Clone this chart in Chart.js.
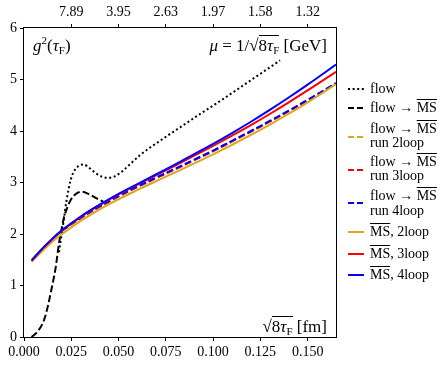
<!DOCTYPE html>
<html>
<head>
<meta charset="utf-8">
<script src="https://cdn.jsdelivr.net/npm/chart.js@4.4.0/dist/chart.umd.min.js"></script>
<style>
body { margin: 0; background: #fff; }
#wrap { position: relative; width: 448px; height: 366px; font-family: "Liberation Serif", serif; color: #000; }
canvas { position: absolute; left: 0; top: 0; }
.t { position: absolute; white-space: nowrap; font-size: 14px; line-height: 16px; }
.big { font-size: 17px; line-height: 18px; }
.ov { text-decoration: overline; text-decoration-thickness: 1px; }
.rad { border-top: 1px solid #000; }
sub { font-size: 11px; vertical-align: -3px; line-height: 0; }
sup { font-size: 11px; vertical-align: 7px; line-height: 0; }
svg { position: absolute; left: 0; top: 0; }
</style>
</head>
<body>
<div id="wrap">
  <canvas id="c" width="448" height="366"></canvas>

  <!-- texte im plot -->
  <div class="t big" style="left:33px; top:37px;"><i>g</i><sup>2</sup>(<i>τ</i><sub>F</sub>)</div>
  <div class="t big" style="right:121px; top:37px;"><i>μ</i> = 1/√<span class="rad">8<i>τ</i><sub>F</sub></span> [GeV]</div>
  <div class="t big" style="right:121px; top:318px;">√<span class="rad">8<i>τ</i><sub>F</sub></span> [fm]</div>

  <!-- legende -->
  <svg width="448" height="366">
    <line x1="348" x2="364" y1="89" y2="89" stroke="#000" stroke-width="2" stroke-dasharray="2 2.6"/>
    <line x1="348" x2="364" y1="108" y2="108" stroke="#000" stroke-width="2" stroke-dasharray="6 3"/>
    <line x1="348" x2="364" y1="137" y2="137" stroke="#daa520" stroke-width="2" stroke-dasharray="6 3"/>
    <line x1="348" x2="364" y1="170" y2="170" stroke="#ff0000" stroke-width="2" stroke-dasharray="6 3"/>
    <line x1="348" x2="364" y1="203" y2="203" stroke="#0000ff" stroke-width="2" stroke-dasharray="6 3"/>
    <line x1="348" x2="364" y1="232" y2="232" stroke="#daa520" stroke-width="2"/>
    <line x1="348" x2="364" y1="254" y2="254" stroke="#ff0000" stroke-width="2"/>
    <line x1="348" x2="364" y1="275" y2="275" stroke="#0000ff" stroke-width="2"/>
  </svg>
  <div class="t" style="left:370px; top:81px;">flow</div>
  <div class="t" style="left:370px; top:100px;">flow → <span class="ov">MS</span></div>
  <div class="t" style="left:370px; top:121px;">flow → <span class="ov">MS</span></div>
  <div class="t" style="left:370px; top:135px;">run 2loop</div>
  <div class="t" style="left:370px; top:154px;">flow → <span class="ov">MS</span></div>
  <div class="t" style="left:370px; top:168px;">run 3loop</div>
  <div class="t" style="left:370px; top:188px;">flow → <span class="ov">MS</span></div>
  <div class="t" style="left:370px; top:203px;">run 4loop</div>
  <div class="t" style="left:370px; top:224px;"><span class="ov">MS</span>, 2loop</div>
  <div class="t" style="left:370px; top:246px;"><span class="ov">MS</span>, 3loop</div>
  <div class="t" style="left:370px; top:267px;"><span class="ov">MS</span>, 4loop</div>
</div>

<script>
// werte (x = sqrt(8 tau_F) in fm)
const flowX = [0.0185, 0.0195, 0.0208, 0.0225, 0.0247, 0.027, 0.0314, 0.035, 0.0379, 0.0415, 0.0444, 0.048, 0.052, 0.0565, 0.0613, 0.0719, 0.0825, 0.0931, 0.1028, 0.1125, 0.1354]
const flowY = [1.65, 1.90, 2.21, 2.65, 3.05, 3.25, 3.35, 3.27, 3.18, 3.11, 3.09, 3.12, 3.22, 3.37, 3.53, 3.81, 4.07, 4.33, 4.56, 4.80, 5.37]

const flowMsX = [0.004, 0.0075, 0.0106, 0.0125, 0.0141, 0.0155, 0.0168, 0.0185, 0.02, 0.0212, 0.023, 0.0247, 0.0275, 0.0308, 0.034, 0.0379, 0.0423]
const flowMsY = [0.0, 0.12, 0.33, 0.58, 0.85, 1.10, 1.36, 1.82, 2.12, 2.33, 2.52, 2.66, 2.78, 2.82, 2.78, 2.70, 2.62]

const runX = [0.02, 0.03, 0.04, 0.05, 0.06, 0.07, 0.08, 0.09, 0.10, 0.11, 0.12, 0.13, 0.14, 0.15, 0.165]
const run2loop = [2.06, 2.305, 2.525, 2.725, 2.91, 3.085, 3.255, 3.43, 3.605, 3.795, 3.985, 4.18, 4.38, 4.59, 4.92]
const run3loop = [2.065, 2.31, 2.53, 2.73, 2.915, 3.09, 3.26, 3.435, 3.61, 3.80, 3.99, 4.185, 4.385, 4.595, 4.925]
const run4loop = [2.07, 2.32, 2.54, 2.74, 2.925, 3.10, 3.27, 3.445, 3.62, 3.81, 4.00, 4.195, 4.395, 4.605, 4.93]

const msX = [0.004, 0.01, 0.015, 0.02, 0.03, 0.04, 0.05, 0.06, 0.07, 0.08, 0.09, 0.10, 0.11, 0.12, 0.13, 0.14, 0.15, 0.165]
const ms2loop = [1.46, 1.68, 1.85, 1.995, 2.255, 2.48, 2.675, 2.855, 3.028, 3.198, 3.37, 3.547, 3.731, 3.923, 4.124, 4.335, 4.557, 4.91]
const ms3loop = [1.48, 1.72, 1.90, 2.06, 2.33, 2.56, 2.77, 2.96, 3.145, 3.33, 3.52, 3.71, 3.91, 4.115, 4.33, 4.555, 4.79, 5.15]
const ms4loop = [1.49, 1.73, 1.91, 2.07, 2.34, 2.57, 2.78, 2.97, 3.16, 3.35, 3.55, 3.75, 3.96, 4.18, 4.41, 4.65, 4.90, 5.29]

const bottomTicks = [0, 0.025, 0.05, 0.075, 0.1, 0.125, 0.15]
const bottomTickLabels = ['0.000', '0.025', '0.050', '0.075', '0.100', '0.125', '0.150']
const topTicks = [0.025, 0.05, 0.075, 0.1, 0.125, 0.15]
const topTickLabels = ['7.89', '3.95', '2.63', '1.97', '1.58', '1.32']
const yTicks = [0, 1, 2, 3, 4, 5, 6]

const GOLD = '#daa520'
const tickFont = { family: 'Liberation Serif', size: 14 }

const pts = (xs, ys) => xs.map((x, i) => ({ x: x, y: ys[i] }))
const line = (label, xs, ys, color, dash, order, mono) => ({
	label: label,
	data: pts(xs, ys),
	borderColor: color,
	backgroundColor: color,
	borderWidth: 2,
	borderDash: dash,
	pointRadius: 0,
	fill: false,
	tension: 0.4,
	cubicInterpolationMode: mono ? 'monotone' : 'default',
	order: order,
})

const pickLabel = (ticks, labels, v) => {
	const i = ticks.findIndex(t => Math.abs(t - v) < 1e-9)
	return i < 0 ? '' : labels[i]
}

// rahmen um den plotbereich
const frame = {
	id: 'frame',
	afterDraw(chart) {
		const { ctx, chartArea: a } = chart
		ctx.save()
		ctx.strokeStyle = '#000'
		ctx.lineWidth = 1
		ctx.strokeRect(Math.round(a.left) - 0.5, Math.round(a.top) - 0.5, Math.round(a.right - a.left) + 1, Math.round(a.bottom - a.top) + 1)
		ctx.restore()
	},
}

const tickGrid = { drawOnChartArea: false, drawTicks: true, tickLength: 4, color: '#000', lineWidth: 1 }

new Chart(document.getElementById('c').getContext('2d'), {
	type: 'line',
	data: {
		datasets: [
			line('flow', flowX, flowY, '#000', [2, 2.6], 7, true),
			line('flow → MS', flowMsX, flowMsY, '#000', [7, 3], 6, true),
			line('flow → MS run 2loop', runX, run2loop, GOLD, [7, 3], 5),
			line('flow → MS run 3loop', runX, run3loop, '#ff0000', [7, 3], 4),
			line('flow → MS run 4loop', runX, run4loop, '#0000ff', [7, 3], 3),
			line('MS, 2loop', msX, ms2loop, GOLD, [], 2),
			line('MS, 3loop', msX, ms3loop, '#ff0000', [], 1),
			line('MS, 4loop', msX, ms4loop, '#0000ff', [], 0),
		],
	},
	options: {
		responsive: false,
		animation: false,
		devicePixelRatio: 1,
		layout: { padding: { left: 0, top: 0, bottom: 0, right: 112 } },
		plugins: { legend: { display: false }, tooltip: { enabled: false } },
		scales: {
			x: {
				type: 'linear',
				position: 'bottom',
				min: 0,
				max: 0.165,
				afterBuildTicks: s => { s.ticks = bottomTicks.map(v => ({ value: v })) },
				afterFit: s => { s.height = 29 },
				ticks: { callback: v => pickLabel(bottomTicks, bottomTickLabels, v), font: tickFont, color: '#000', padding: 3, maxRotation: 0, autoSkip: false },
				grid: tickGrid,
				border: { display: false },
			},
			xTop: {
				type: 'linear',
				position: 'top',
				min: 0,
				max: 0.165,
				afterBuildTicks: s => { s.ticks = topTicks.map(v => ({ value: v })) },
				afterFit: s => { s.height = 28 },
				ticks: { callback: v => pickLabel(topTicks, topTickLabels, v), font: tickFont, color: '#000', padding: 3, maxRotation: 0, autoSkip: false },
				grid: tickGrid,
				border: { display: false },
			},
			y: {
				min: 0,
				max: 6,
				afterBuildTicks: s => { s.ticks = yTicks.map(v => ({ value: v })) },
				afterFit: s => { s.width = 24 },
				ticks: { font: tickFont, color: '#000', padding: 3 },
				grid: tickGrid,
				border: { display: false },
			},
		},
	},
	plugins: [frame],
})
</script>
</body>
</html>
